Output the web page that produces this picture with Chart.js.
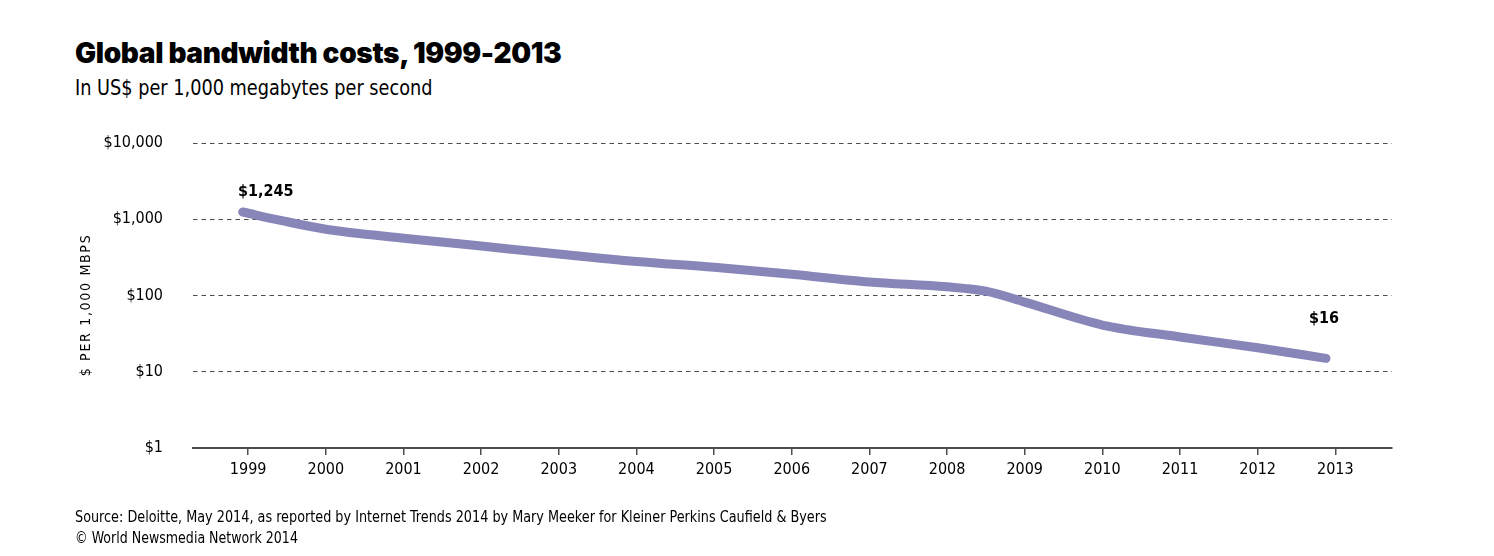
<!DOCTYPE html>
<html>
<head>
<meta charset="utf-8">
<script src="https://cdn.jsdelivr.net/npm/chart.js@4/dist/chart.umd.min.js"></script>
<style>
  html, body { margin: 0; padding: 0; background: #fff; }
  #wrap { position: relative; width: 1494px; height: 556px; overflow: hidden; }
  #chart { position: absolute; left: 0; top: 0; }
  .txt { position: absolute; left: 75px; color: #000; white-space: nowrap; transform-origin: left top; }
  .narrow { font-family: "Liberation Sans Narrow", "DejaVu Sans Condensed", sans-serif; }
  #title { top: 36px; font-family: "Inter", "Lato", sans-serif; font-weight: 900; font-size: 28px; letter-spacing: -0.35px; }
  #subtitle { top: 75px; font-size: 22px; transform: scaleX(0.895); }
  #source { top: 508px; font-size: 15px; transform: scaleX(0.95); }
  #copy { top: 529px; font-size: 15px; transform: scaleX(0.935); }
</style>
</head>
<body>
<div id="wrap">
  <div class="txt" id="title">Global bandwidth costs, 1999-2013</div>
  <div class="txt narrow" id="subtitle">In US$ per 1,000 megabytes per second</div>
  <canvas id="chart" width="1494" height="556"></canvas>
  <div class="txt narrow" id="source">Source: Deloitte, May 2014, as reported by Internet Trends 2014 by Mary Meeker for Kleiner Perkins Caufield &amp; Byers</div>
  <div class="txt narrow" id="copy">© World Newsmedia Network 2014</div>
</div>
<script>
// values (x = position in years, y = US$ per 1,000 Mbps)
const years = [1998.93, 1999.45, 2000, 2001, 2002, 2003, 2004, 2005, 2006, 2007, 2008, 2008.5, 2009, 2010, 2011, 2012, 2012.88];
const costs = [1245, 950, 740, 565, 445, 350, 280, 235, 190, 150, 130, 114, 82, 41, 28.6, 20.6, 15];
const xTicks = [1999, 2000, 2001, 2002, 2003, 2004, 2005, 2006, 2007, 2008, 2009, 2010, 2011, 2012, 2013];
const yTicks = [1, 10, 100, 1000, 10000];
const yTitle = "$ PER 1,000 MBPS";
const valueLabels = [
    { index: 0, text: "$1,245" },
    { index: costs.length - 1, text: "$16" }
];

const NARROW = '"Liberation Sans Narrow", "DejaVu Sans Condensed", sans-serif';
const LINE_COLOR = '#8885b8';
const GRID_COLOR = '#4d4d4d';

// rotated, letter-spaced y axis title
const yTitlePlugin = {
    id: 'yTitle',
    afterDraw(chart) {
        const ctx = chart.ctx;
        ctx.save();
        ctx.translate(86, 305);
        ctx.rotate(-Math.PI / 2);
        ctx.font = '14px ' + NARROW;
        ctx.letterSpacing = '1.7px';
        ctx.fillStyle = '#000';
        ctx.textAlign = 'center';
        ctx.textBaseline = 'middle';
        ctx.fillText(yTitle, 0, 0);
        ctx.restore();
    }
};

// bold value labels at first and last point
const valueLabelPlugin = {
    id: 'valueLabels',
    afterDatasetsDraw(chart) {
        const ctx = chart.ctx;
        const meta = chart.getDatasetMeta(0);
        const offsets = [{ dx: 23, dy: -20 }, { dx: -2, dy: -39 }];
        ctx.save();
        ctx.font = 'bold 16px ' + NARROW;
        ctx.fillStyle = '#000';
        ctx.textAlign = 'center';
        ctx.textBaseline = 'middle';
        valueLabels.forEach(function(lab, i) {
            const pt = meta.data[lab.index];
            ctx.fillText(lab.text, pt.x + offsets[i].dx, pt.y + offsets[i].dy);
        });
        ctx.restore();
    }
};

new Chart(document.getElementById('chart'), {
    type: 'line',
    data: {
        datasets: [{
            data: years.map(function(x, i) { return { x: x, y: costs[i] }; }),
            borderColor: LINE_COLOR,
            borderWidth: 9,
            borderCapStyle: 'round',
            borderJoinStyle: 'round',
            cubicInterpolationMode: 'monotone',
            pointRadius: 0,
            fill: false,
            clip: false
        }]
    },
    options: {
        responsive: false,
        animation: false,
        layout: { padding: { left: 0, top: 143, right: 102, bottom: 78 } },
        plugins: {
            legend: { display: false },
            tooltip: { enabled: false }
        },
        scales: {
            x: {
                type: 'linear',
                min: 1998.29,
                max: 2013.73,
                afterBuildTicks: function(scale) {
                    scale.ticks = xTicks.map(function(v) { return { value: v }; });
                },
                afterFit: function(scale) { scale.height = 30; },
                ticks: {
                    autoSkip: false,
                    maxRotation: 0,
                    padding: 5,
                    color: '#000',
                    font: { family: NARROW, size: 16 },
                    callback: function(v) { return String(v); }
                },
                grid: {
                    drawOnChartArea: false,
                    drawTicks: true,
                    tickLength: 7,
                    color: GRID_COLOR,
                    lineWidth: 1.5
                },
                border: { display: true, color: GRID_COLOR, width: 2 }
            },
            y: {
                type: 'logarithmic',
                min: 1,
                max: 10000,
                afterBuildTicks: function(scale) {
                    scale.ticks = yTicks.map(function(v) { return { value: v }; });
                },
                afterFit: function(scale) { scale.width = 193; },
                ticks: {
                    padding: 30,
                    color: '#000',
                    font: { family: NARROW, size: 16 },
                    callback: function(v) { return '$' + Number(v).toLocaleString('en-US'); }
                },
                grid: {
                    drawTicks: false,
                    lineWidth: 1,
                    color: function(c) { return c.tick && c.tick.value === 1 ? 'rgba(0,0,0,0)' : GRID_COLOR; }
                },
                border: { display: false, dash: [4.5, 4] }
            }
        }
    },
    plugins: [yTitlePlugin, valueLabelPlugin]
});
</script>
</body>
</html>
